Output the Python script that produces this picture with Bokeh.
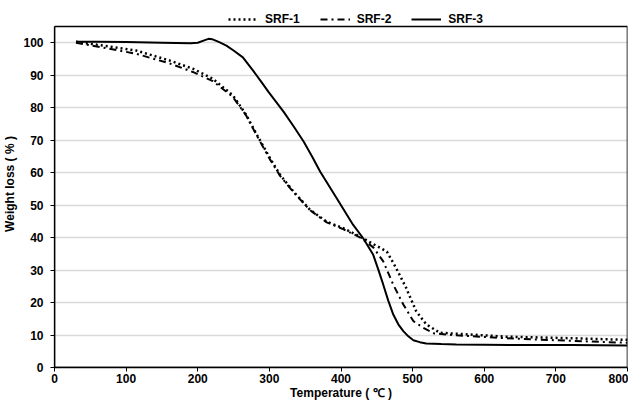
from bokeh.plotting import figure
from bokeh.models import Legend, LegendItem, Range1d, FixedTicker
from bokeh.embed import file_html
from bokeh.resources import INLINE

# ---- data ----
srf1_temp = [30, 68, 114, 161, 193, 221, 249, 267, 283, 301, 315, 334, 357, 380, 403, 427, 445, 464, 477, 491, 505, 519, 538, 561, 630, 723, 800]
srf1_loss = [100.3, 99.1, 97.6, 94.5, 92.0, 88.9, 83.8, 78.0, 71.5, 64.4, 59.3, 54.1, 48.5, 44.9, 42.9, 40.3, 38.0, 35.7, 30.6, 24.5, 17.3, 13.3, 10.7, 10.4, 9.5, 9.0, 8.5]

srf2_temp = [30, 68, 114, 161, 193, 221, 249, 267, 283, 301, 315, 334, 357, 380, 403, 427, 445, 459, 473, 487, 501, 515, 530, 561, 630, 723, 800]
srf2_loss = [100.0, 98.5, 96.6, 93.6, 91.0, 88.2, 83.3, 77.8, 71.2, 64.0, 59.0, 53.9, 48.4, 44.7, 42.6, 40.0, 37.0, 32.7, 25.5, 19.4, 14.3, 12.2, 10.5, 9.9, 9.0, 8.2, 7.6]

srf3_temp = [30, 60, 100, 150, 190, 200, 210, 215, 220, 230, 240, 250, 263, 277, 288, 299, 320, 334, 348, 360, 371, 394, 417, 431, 445, 452, 459, 466, 473, 480, 487, 494, 501, 510, 519, 540, 561, 600, 650, 723, 800]
srf3_loss = [100.3, 100.3, 100.2, 100.0, 99.8, 100.0, 100.8, 101.2, 101.1, 100.2, 99.1, 97.6, 95.5, 91.5, 88.2, 84.8, 78.7, 74.2, 69.5, 64.8, 60.3, 52.1, 43.9, 39.8, 34.7, 30.2, 25.5, 20.6, 16.3, 13.3, 11.2, 9.6, 8.4, 7.8, 7.4, 7.2, 7.1, 7.0, 6.9, 6.9, 6.8]

series_names = ["SRF-1", "SRF-2", "SRF-3"]
x_ticks = [0, 100, 200, 300, 400, 500, 600, 700, 800]
y_ticks = [0, 10, 20, 30, 40, 50, 60, 70, 80, 90, 100]
x_min, x_max = 0, 800
y_min, y_max = 0, 105

FONT = "Liberation Sans"

# the frame reaches the top of the canvas so the legend (drawn in it) stays visible;
# the visible plot box is drawn as an unfilled quad over the 0..105 range
p = figure(width=628, height=402,
           x_range=Range1d(x_min, x_max), y_range=Range1d(0, 113),
           output_backend="svg", toolbar_location=None,
           min_border_left=51, min_border_right=1,
           min_border_bottom=34, min_border_top=0)

p.background_fill_color = "white"
p.border_fill_color = "white"
p.outline_line_color = None

# grid
p.xgrid.grid_line_color = None
p.ygrid.grid_line_color = "#d9d9d9"
p.ygrid.grid_line_width = 1.3

p.quad(left=[x_min], right=[x_max], bottom=[y_min], top=[y_max],
       fill_color=None, line_color="black", line_width=1.6)

r1 = p.line(srf1_temp, srf1_loss, line_color="black", line_width=2.5, line_dash="2 3")
r2 = p.line(srf2_temp, srf2_loss, line_color="black", line_width=2, line_dash="7 4 2 4")
r3 = p.line(srf3_temp, srf3_loss, line_color="black", line_width=2)

# axes
p.xaxis.ticker = FixedTicker(ticks=x_ticks)
p.yaxis.ticker = FixedTicker(ticks=y_ticks)
p.yaxis.bounds = (y_min, y_max)
for ax in (p.xaxis[0], p.yaxis[0]):
    ax.axis_line_color = "black"
    ax.axis_line_width = 1.3
    ax.major_tick_line_color = "black"
    ax.major_tick_in = 0
    ax.major_tick_out = 4
    ax.minor_tick_line_color = None
    ax.major_label_text_font = FONT
    ax.major_label_text_font_style = "bold"
    ax.major_label_text_font_size = "12px"
    ax.major_label_text_color = "black"
    ax.axis_label_text_font = FONT
    ax.axis_label_text_font_style = "bold"
    ax.axis_label_text_font_size = "12px"
    ax.axis_label_text_color = "black"

p.xaxis.axis_label = "Temperature ( ℃ )"
p.yaxis.axis_label = "Weight loss ( % )"
p.xaxis.major_label_standoff = 2
p.xaxis.axis_label_standoff = 0
p.yaxis.major_label_standoff = 7
p.yaxis.axis_label_standoff = 3

legend = Legend(items=[LegendItem(label=series_names[0], renderers=[r1]),
                       LegendItem(label=series_names[1], renderers=[r2]),
                       LegendItem(label=series_names[2], renderers=[r3])],
                orientation="horizontal", location=(174, 341))
legend.label_text_font = FONT
legend.label_text_font_style = "bold"
legend.label_text_font_size = "12px"
legend.label_text_color = "black"
legend.border_line_color = None
legend.background_fill_alpha = 0
legend.padding = 0
legend.margin = 0
legend.spacing = 20
legend.glyph_width = 30
legend.glyph_height = 14
legend.label_height = 14
legend.label_standoff = 7
p.add_layout(legend, "center")

open("out.html", "w").write(file_html(p, INLINE))
